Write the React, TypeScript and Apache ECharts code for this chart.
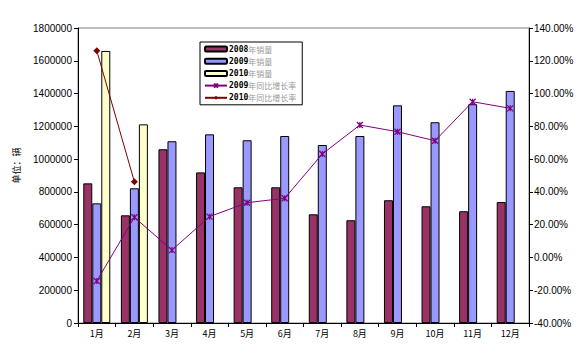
import React, { useEffect, useRef } from "react";
import * as echarts from "echarts";

const months = ["1月", "2月", "3月", "4月", "5月", "6月", "7月", "8月", "9月", "10月", "11月", "12月"];
const sales2008 = [852000, 657000, 1060000, 919000, 828000, 828000, 663000, 627000, 749000, 712000, 682000, 738000];
const sales2009 = [730000, 822000, 1109000, 1151000, 1115000, 1141000, 1086000, 1141000, 1328000, 1225000, 1335000, 1416000];
const sales2010 = [1660000, 1212000, null, null, null, null, null, null, null, null, null, null];
const growth2009 = [-14.4, 24.5, 4.5, 24.9, 33.4, 36.1, 63.1, 80.8, 76.7, 71.2, 95.0, 91.0];
const growth2010 = [126.1, 46.2, null, null, null, null, null, null, null, null, null, null];
const seriesNames = ["2008年销量", "2009年销量", "2010年销量", "2009年同比增长率", "2010年同比增长率"];

export default function App() {
  const ref = useRef<HTMLDivElement>(null);
  useEffect(() => {
    const chart = echarts.init(ref.current!, undefined, { renderer: "svg" });
    const barBase = { type: "bar", barWidth: 9, barGap: "0%", yAxisIndex: 0 };
    chart.setOption({
      animation: false,
      backgroundColor: "#ffffff",
      textStyle: { fontFamily: "Liberation Sans, Arial, sans-serif" },
      grid: { left: 78, right: 56, top: 28, bottom: 35, show: true, borderColor: "#808080", borderWidth: 1 },
      legend: {
        orient: "vertical",
        left: 200,
        top: 42,
        padding: [2, 6, 2, 4],
        itemWidth: 22,
        itemHeight: 5,
        itemGap: 2.2,
        borderColor: "#000",
        borderWidth: 1,
        backgroundColor: "#fff",
        data: seriesNames,
        formatter: (name: string) => `{a|${name.slice(0, 4)}}{b|${name.slice(4)}}`,
        textStyle: {
          padding: [0, 0, 0, -3],
          lineHeight: 10,
          rich: {
            a: { fontSize: 8, lineHeight: 10, color: "#000", fontWeight: "bold", fontFamily: "DejaVu Sans Mono, monospace" },
            b: { fontSize: 8, lineHeight: 10, color: "#999", fontFamily: "Noto Sans CJK SC" },
          },
        },
      },
      xAxis: {
        type: "category",
        data: months,
        boundaryGap: true,
        axisLine: { lineStyle: { color: "#000", width: 1 } },
        axisTick: { show: true, length: 4, lineStyle: { color: "#000" } },
        axisLabel: { fontSize: 9, color: "#000", margin: 6, fontFamily: "Noto Sans CJK SC" },
      },
      yAxis: [
        {
          type: "value",
          min: 0,
          max: 1800000,
          interval: 200000,
          name: "单位：辆",
          nameLocation: "middle",
          nameGap: 57,
          nameRotate: 90,
          nameTextStyle: { fontSize: 9, color: "#000", fontFamily: "Noto Sans CJK SC", padding: [0, 0, 0, 20] },
          splitLine: { show: false },
          axisLine: { show: true, lineStyle: { color: "#000" } },
          axisTick: { show: true, length: 4, lineStyle: { color: "#000" } },
          axisLabel: { fontSize: 10, color: "#000", margin: 6, formatter: (v: number) => String(v) },
        },
        {
          type: "value",
          min: -40,
          max: 140,
          interval: 20,
          position: "right",
          splitLine: { show: false },
          axisLine: { show: true, lineStyle: { color: "#000" } },
          axisTick: { show: true, length: 4, lineStyle: { color: "#000" } },
          axisLabel: { fontSize: 10, color: "#000", margin: 5, formatter: (v: number) => v.toFixed(2) + "%" },
        },
      ],
      series: [
        { ...barBase, name: seriesNames[0], data: sales2008, itemStyle: { color: "#993366", borderColor: "#000", borderWidth: 1 } },
        { ...barBase, name: seriesNames[1], data: sales2009, itemStyle: { color: "#9999FF", borderColor: "#000", borderWidth: 1 } },
        { ...barBase, name: seriesNames[2], data: sales2010, itemStyle: { color: "#FFFFCC", borderColor: "#000", borderWidth: 1 } },
        {
          type: "line",
          name: seriesNames[3],
          yAxisIndex: 1,
          data: growth2009,
          symbol: "path://M0,0L10,10M10,0L0,10M5,0L5,10",
          symbolSize: 6,
          showSymbol: true,
          lineStyle: { color: "#800080", width: 1 },
          itemStyle: { color: "rgba(0,0,0,0)", borderColor: "#800080", borderWidth: 1.2 },
        },
        {
          type: "line",
          name: seriesNames[4],
          yAxisIndex: 1,
          data: growth2010,
          symbol: "diamond",
          symbolSize: 7,
          showSymbol: true,
          lineStyle: { color: "#800000", width: 1 },
          itemStyle: { color: "#800000", borderColor: "#800000", borderWidth: 0 },
        },
      ],
    });
    return () => chart.dispose();
  }, []);
  return (
    <div
      ref={ref}
      style={{ position: "fixed", left: 0, top: 0, width: 585, height: 358, background: "#fff" }}
    />
  );
}
